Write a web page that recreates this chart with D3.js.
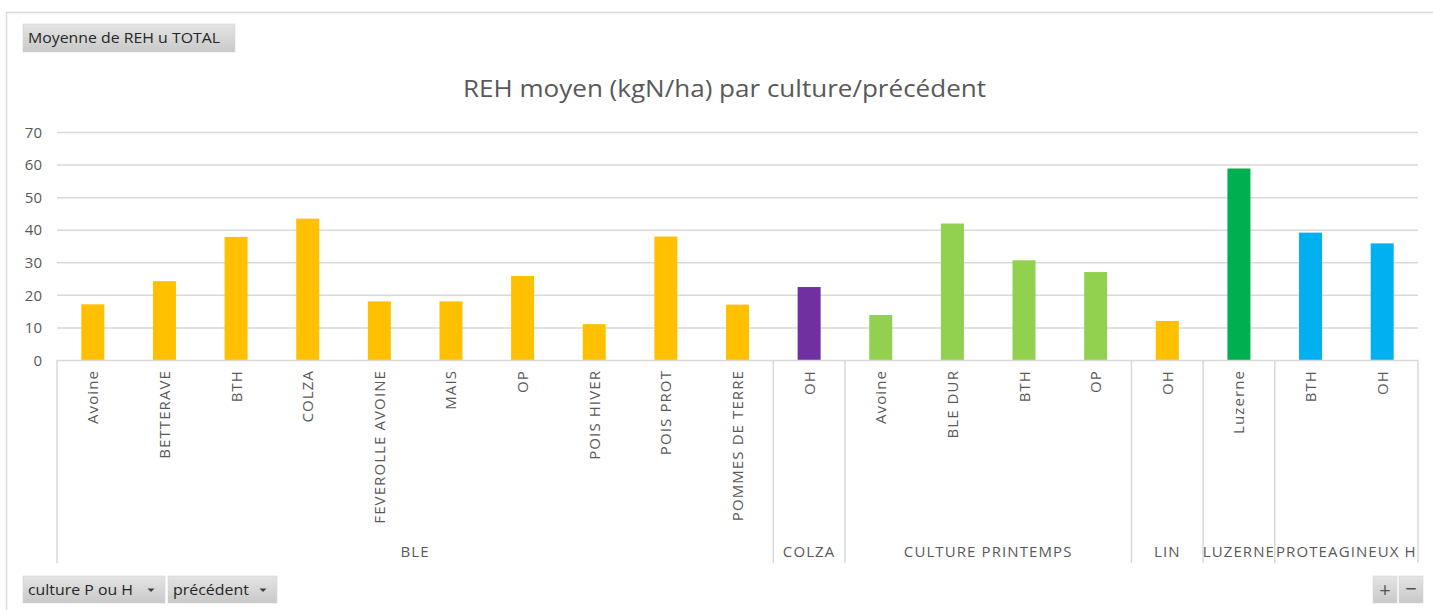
<!DOCTYPE html>
<html><head><meta charset="utf-8">
<script src="https://cdn.jsdelivr.net/npm/d3@7"></script>
<style>
html,body{margin:0;padding:0;background:#fff;}
svg{display:block;font-family:"Open Sans",Lato,sans-serif;}
</style></head><body>
<svg id="c" width="1433" height="610"></svg>
<script>
const groups = ["BLE","COLZA","CULTURE PRINTEMPS","LIN","LUZERNE","PROTEAGINEUX H"];
const groupSizes = [10,1,4,1,1,2];
const groupColors = ["#FFC000","#7030A0","#92D050","#FFC000","#00B050","#00B0F0"];
const categories = ["Avoine","BETTERAVE","BTH","COLZA","FEVEROLLE AVOINE","MAIS","OP","POIS HIVER","POIS PROT","POMMES DE TERRE",
  "OH","Avoine","BLE DUR","BTH","OP","OH","Luzerne","BTH","OH"];
const values = [17.1,24.2,37.8,43.4,18,18,25.8,11,37.9,17,22.4,13.8,41.9,30.6,27,12,58.8,39.1,35.8];
const yTicks = [0,10,20,30,40,50,60,70];

const svg = d3.select("#c");
const X0 = 57, X1 = 1418, Y0 = 360, Y1 = 132;

// frame
svg.append("path").attr("d","M6.5,610 V12.5 H1433").attr("fill","none").attr("stroke","#d9d9d9").attr("stroke-width",1.5);

// gradient for buttons
const defs = svg.append("defs");
const g1 = defs.append("linearGradient").attr("id","btn").attr("x1",0).attr("y1",0).attr("x2",0).attr("y2",1);
g1.append("stop").attr("offset","0").attr("stop-color","#e4e4e4");
g1.append("stop").attr("offset","1").attr("stop-color","#c9c9c9");

function button(x,y,w,h,text,arrow,tw){
  svg.append("rect").attr("x",x).attr("y",y).attr("width",w).attr("height",h).attr("fill","url(#btn)").attr("stroke","#d0d0d0").attr("stroke-width",0.5);
  if(text){
    const t = svg.append("text").attr("x",x+5).attr("y",y+h/2+5).attr("font-size",14.5).attr("fill","#262626").text(text);
    if(tw) t.attr("textLength",tw).attr("lengthAdjust","spacingAndGlyphs");
  }
  if(arrow){
    const ax=x+w-14, ay=y+h/2-1;
    svg.append("path").attr("d",`M${ax-3.5},${ay} L${ax+3.5},${ay} L${ax},${ay+3.5}Z`).attr("fill","#404040");
  }
}
button(23,24,212,28,"Moyenne de REH u TOTAL",false,192);
button(23,576,142,27,"culture P ou H",true,105);
button(168,576,109,27,"précédent",true,76);
button(1373,576,24,27,null,false);
button(1399,576,24,27,null,false);
svg.append("text").attr("x",1385).attr("y",597).attr("text-anchor","middle").attr("font-size",20).attr("fill","#555").text("+");
svg.append("text").attr("x",1411).attr("y",596).attr("text-anchor","middle").attr("font-size",20).attr("fill","#555").text("−");

// title
svg.append("text").attr("x",724.5).attr("y",97).attr("text-anchor","middle").attr("font-size",23).attr("fill","#595959")
  .attr("textLength",523).attr("lengthAdjust","spacingAndGlyphs")
  .text("REH moyen (kgN/ha) par culture/précédent");

const y = d3.scaleLinear().domain([0,70]).range([Y0,Y1]);
const idx = d3.range(categories.length);
const x = d3.scaleBand().domain(idx).range([X0,X1]).paddingInner(0).paddingOuter(0);
const step = x.bandwidth();
const barW = 23;

// gridlines
svg.append("g").selectAll("line").data(yTicks.filter(d=>d>0)).join("line")
  .attr("x1",X0).attr("x2",X1).attr("y1",d=>y(d)+0.5).attr("y2",d=>y(d)+0.5)
  .attr("stroke","#d9d9d9").attr("stroke-width",1.5);

// y axis labels
const ya = svg.append("g").attr("transform",`translate(${X0-15},0)`)
  .call(d3.axisLeft(y).tickValues(yTicks).tickSize(0).tickPadding(0));
ya.select(".domain").remove();
ya.selectAll("text").attr("font-size",15).attr("fill","#595959").attr("font-family","'Open Sans',sans-serif").attr("dy","0.35em");

// group index per category
const catGroup = [];
groupSizes.forEach((n,gi)=>{for(let i=0;i<n;i++)catGroup.push(gi);});

// bars
svg.append("g").selectAll("rect").data(idx).join("rect")
  .attr("x",i=>x(i)+step/2-barW/2).attr("width",barW)
  .attr("y",i=>y(values[i])).attr("height",i=>Y0-y(values[i]))
  .attr("fill",i=>groupColors[catGroup[i]]);

// baseline
svg.append("line").attr("x1",X0).attr("x2",X1).attr("y1",Y0+0.5).attr("y2",Y0+0.5).attr("stroke","#d9d9d9").attr("stroke-width",1.5);

// category labels
svg.append("g").selectAll("text").data(idx).join("text")
  .attr("transform",i=>`translate(${x(i)+step/2+5.5},370) rotate(-90)`)
  .attr("text-anchor","end").attr("font-size",15).attr("letter-spacing",1.1).attr("fill","#595959").text(i=>categories[i]);

// group separators and labels
let start=0;
const bounds=[0];
groupSizes.forEach(n=>{start+=n;bounds.push(start);});
svg.append("g").selectAll("line").data(bounds).join("line")
  .attr("x1",b=>b===categories.length?X1:x(b)).attr("x2",b=>b===categories.length?X1:x(b))
  .attr("y1",Y0).attr("y2",563).attr("stroke","#d9d9d9").attr("stroke-width",1.5);
svg.append("g").selectAll("text").data(groups).join("text")
  .attr("x",(g,gi)=>{const a=x(bounds[gi]);const b=bounds[gi+1]===categories.length?X1:x(bounds[gi+1]);return (a+b)/2;})
  .attr("y",557).attr("text-anchor","middle").attr("font-size",15).attr("letter-spacing",1.1).attr("fill","#595959").text(g=>g);
</script>
</body></html>
